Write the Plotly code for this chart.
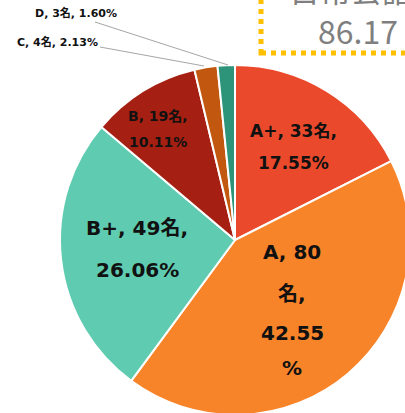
import plotly.graph_objects as go

# ---- data ----
grades = ["A+", "A", "B+", "B", "C", "D"]
counts = [33, 80, 49, 19, 4, 3]
percents = [17.55, 42.55, 26.06, 10.11, 2.13, 1.60]
colors = ["#EA4A2B", "#F8842A", "#5FCBB0", "#A52012", "#C2580F", "#2D9479"]
box_title = "日常会話"
box_value = "86.17"

W, H = 420, 420
FONT = "DejaVu Sans, Noto Sans CJK JP"
BOXFONT = "Noto Sans CJK JP"


def px(x, y):
    return x / W, 1 - y / H


fig = go.Figure()
fig.add_trace(go.Pie(
    labels=grades, values=counts, sort=False, direction="clockwise", rotation=0,
    marker=dict(colors=colors, line=dict(color="white", width=2)),
    textinfo="none", hoverinfo="label+value+percent", showlegend=False,
    domain=dict(x=[60 / W, 410 / W], y=[1 - 415 / H, 1 - 65 / H]),
))

ann = []


def label(text, x, y, size, anchor="center"):
    ax, ay = px(x, y)
    ann.append(dict(text=text, x=ax, y=ay, xref="paper", yref="paper",
                    xanchor=anchor, yanchor="middle", showarrow=False,
                    font=dict(family=FONT, size=size, color="#111111")))


lbl = {g: (f"{g}, {n}名,", f"{p:.2f}%") for g, n, p in zip(grades, counts, percents)}

# A+
label(f"<b>{lbl['A+'][0]}</b>", 293, 131, 17)
label(f"<b>{lbl['A+'][1]}</b>", 293, 163, 17)
# A (wrapped like the original)
a_n = counts[1]
a_p = f"{percents[1]:.2f}"
label(f"<b>A, {a_n}</b>", 292, 252, 20)
label("<b>名,</b>", 292, 294, 20)
label(f"<b>{a_p}</b>", 292, 333, 20)
label("<b>%</b>", 292, 368, 20)
# B+
label(f"<b>{lbl['B+'][0]}</b>", 137, 228, 20)
label(f"<b>{lbl['B+'][1]}</b>", 137, 270, 20)
# B
label(f"<b>{lbl['B'][0]}</b>", 158, 116, 14)
label(f"<b>{lbl['B'][1]}</b>", 158, 142, 14)
# C, D (outside, with leader lines)
label(f"<b>{grades[5]}, {counts[5]}名, {percents[5]:.2f}%</b>", 33, 13, 11, "left")
label(f"<b>{grades[4]}, {counts[4]}名, {percents[4]:.2f}%</b>", 15, 42, 11, "left")

# boxed text at top-right
bx, by = px(287, -12)
ann.append(dict(text=box_title, x=bx, y=by, xref="paper", yref="paper", xanchor="left",
                yanchor="middle", showarrow=False,
                font=dict(family=BOXFONT, size=31, color="#7F7F7F")))
bx, by = px(316, 30)
ann.append(dict(text=box_value, x=bx, y=by, xref="paper", yref="paper", xanchor="left",
                yanchor="middle", showarrow=False,
                font=dict(family=BOXFONT, size=32, color="#7F7F7F")))

shapes = []
# leader lines
for (x0, y0, x1, y1) in [(95, 22, 228, 65), (100, 47, 204, 66)]:
    a0, b0 = px(x0, y0)
    a1, b1 = px(x1, y1)
    shapes.append(dict(type="line", xref="paper", yref="paper", x0=a0, y0=b0, x1=a1, y1=b1,
                       line=dict(color="#A6A6A6", width=1)))
# dotted box
a0, b0 = px(261, 53)
a1, b1 = px(440, -30)
shapes.append(dict(type="rect", xref="paper", yref="paper", x0=a0, y0=b0, x1=a1, y1=b1,
                   line=dict(color="#FFC000", width=5, dash="dot"), fillcolor="rgba(0,0,0,0)"))

fig.update_layout(
    width=W, height=H, margin=dict(l=0, r=0, t=0, b=0),
    paper_bgcolor="white", plot_bgcolor="white",
    annotations=ann, shapes=shapes,
)

fig.write_html(
    "out.html",
    config={"displayModeBar": False},
    post_script="document.body.style.margin='0';document.body.style.overflow='hidden';"
                "document.documentElement.style.overflow='hidden';",
)
